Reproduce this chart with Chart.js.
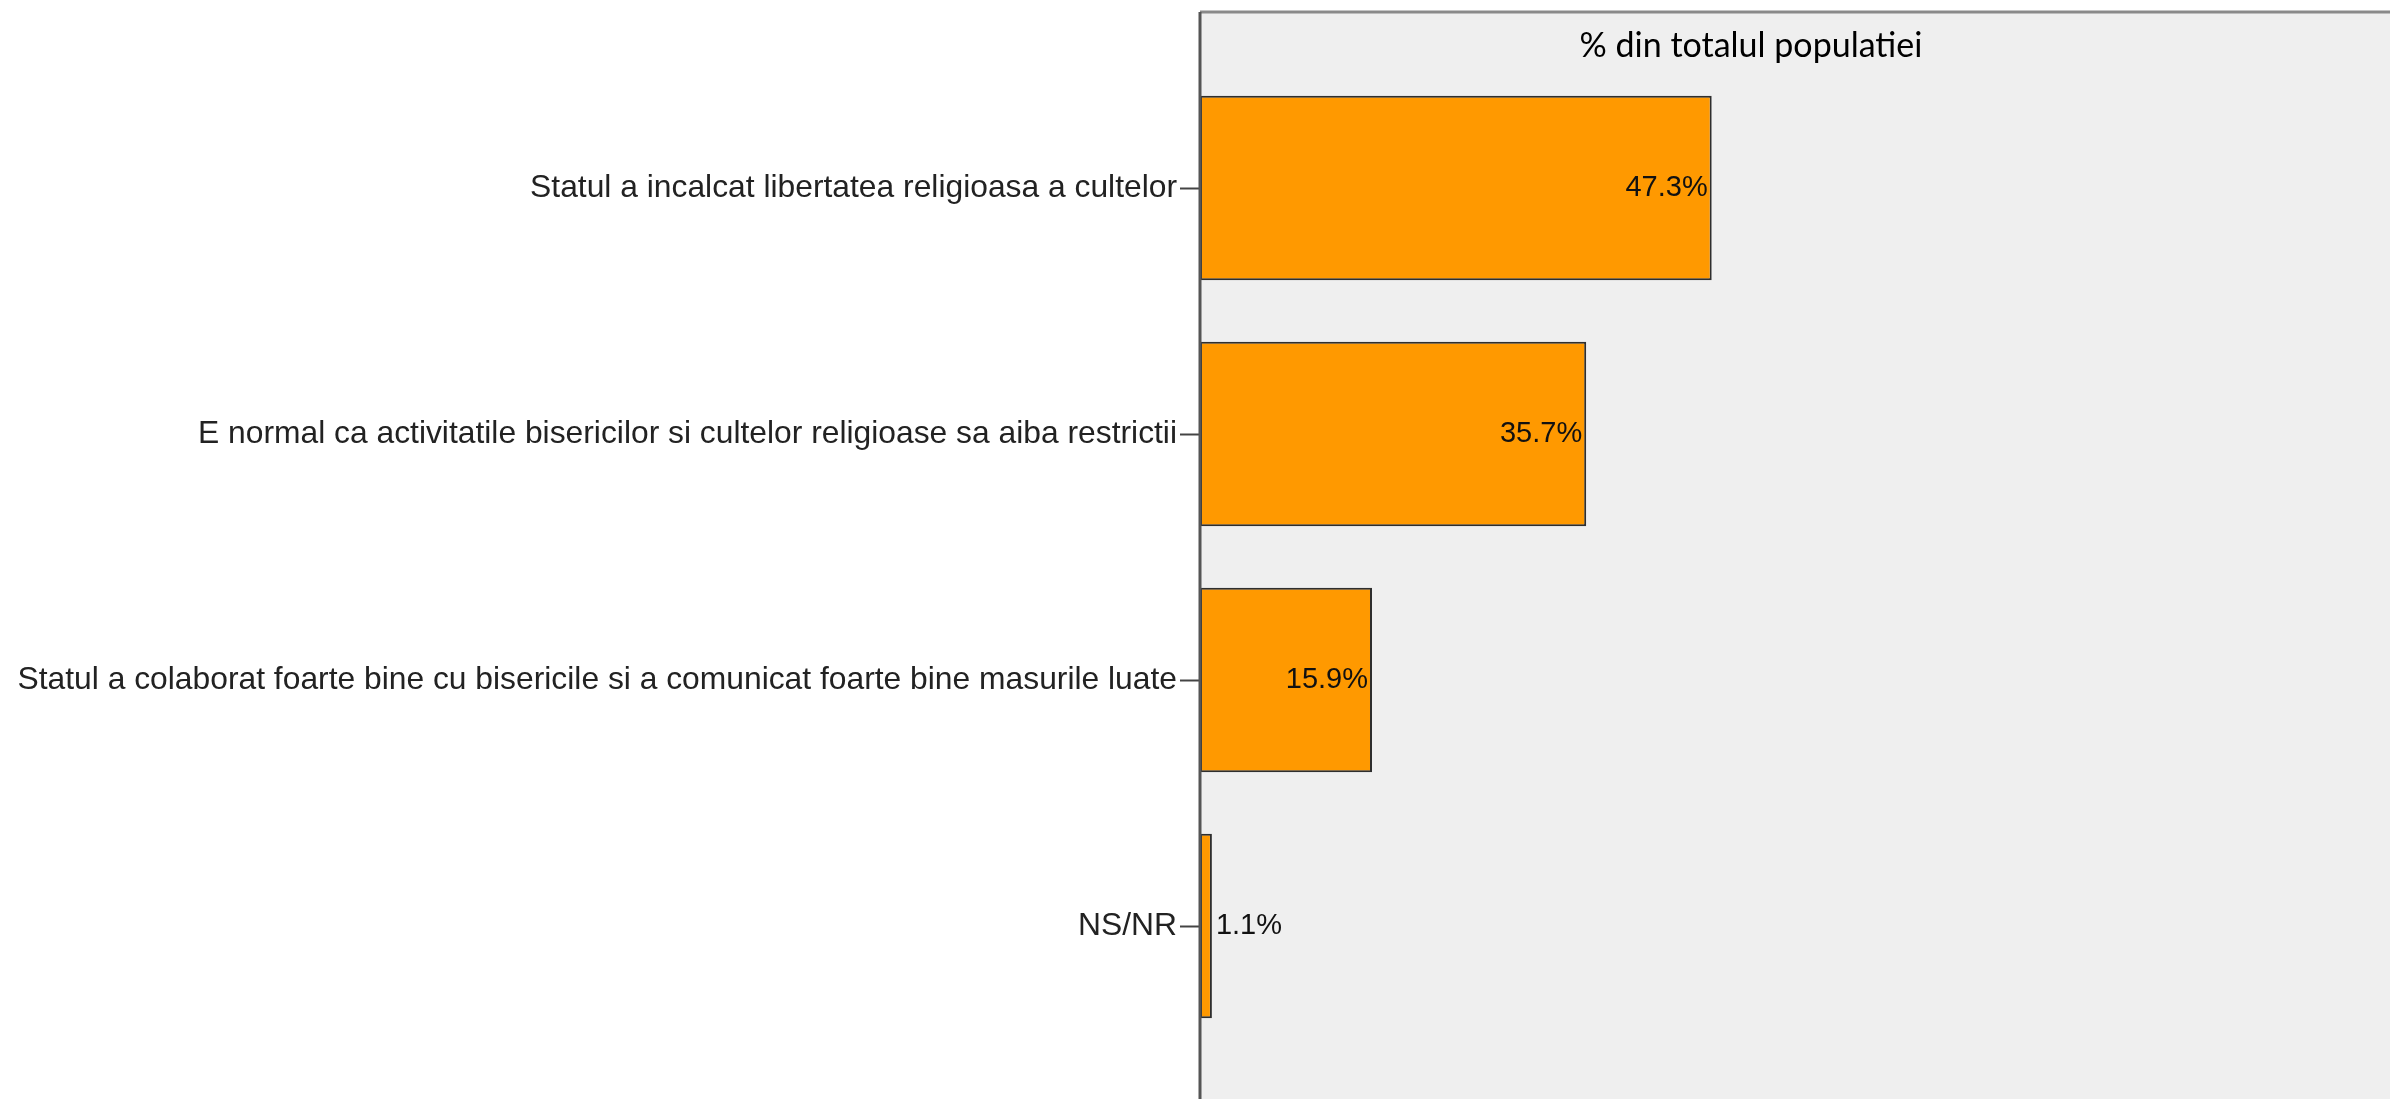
<!DOCTYPE html>
<html>
<head>
<meta charset="utf-8">
<script src="https://cdn.jsdelivr.net/npm/chart.js@4"></script>
<style>
html,body{margin:0;padding:0;background:#ffffff;}
#wrap{width:2390px;height:1099px;position:relative;}
</style>
</head>
<body>
<div id="wrap"><canvas id="c" width="2390" height="1099"></canvas></div>
<script>
const categories = [
  "Statul a incalcat libertatea religioasa a cultelor",
  "E normal ca activitatile bisericilor si cultelor religioase sa aiba restrictii",
  "Statul a colaborat foarte bine cu bisericile si a comunicat foarte bine masurile luate",
  "NS/NR"
];
const values = [47.3, 35.7, 15.9, 1.1];
const valueLabels = ["47.3%", "35.7%", "15.9%", "1.1%"];
const panelTitle = "% din totalul populatiei";

const panelPlugin = {
  id: 'panel',
  beforeDatasetsDraw(chart) {
    const ctx = chart.ctx, a = chart.chartArea;
    ctx.save();
    ctx.fillStyle = '#efefef';
    ctx.fillRect(a.left, 12, chart.width - a.left, chart.height - 12);
    ctx.strokeStyle = '#8a8a8a';
    ctx.lineWidth = 3;
    ctx.beginPath();
    ctx.moveTo(a.left, 12);
    ctx.lineTo(chart.width, 12);
    ctx.stroke();
    ctx.fillStyle = '#000';
    ctx.font = '34px Lato';
    ctx.textAlign = 'center';
    ctx.textBaseline = 'middle';
    ctx.fillText(panelTitle, 1751, 46);
    ctx.restore();
  },
  afterDatasetsDraw(chart) {
    const ctx = chart.ctx, a = chart.chartArea;
    ctx.save();
    ctx.strokeStyle = '#555';
    ctx.lineWidth = 3;
    ctx.beginPath();
    ctx.moveTo(a.left, 12);
    ctx.lineTo(a.left, chart.height);
    ctx.stroke();
    ctx.fillStyle = '#111';
    ctx.font = '29px "Liberation Sans"';
    ctx.textBaseline = 'middle';
    const meta = chart.getDatasetMeta(0);
    meta.data.forEach((bar, i) => {
      if (values[i] > 5) {
        ctx.textAlign = 'right';
        ctx.fillText(valueLabels[i], bar.x - 4, bar.y);
      } else {
        ctx.textAlign = 'left';
        ctx.fillText(valueLabels[i], bar.x + 4, bar.y);
      }
    });
    ctx.restore();
  }
};

new Chart(document.getElementById('c'), {
  type: 'bar',
  data: {
    labels: categories,
    datasets: [{
      data: values,
      backgroundColor: '#ff9900',
      borderColor: '#2e2e2e',
      borderWidth: 2,
      borderSkipped: false,
      categoryPercentage: 1,
      barPercentage: 0.75
    }]
  },
  options: {
    indexAxis: 'y',
    responsive: false,
    animation: false,
    layout: { padding: { top: 65, bottom: 50, left: 0, right: 0 } },
    plugins: { legend: { display: false }, tooltip: { enabled: false }, title: { display: false } },
    scales: {
      x: {
        display: false,
        min: 0,
        max: 110
      },
      y: {
        afterFit(scale) { scale.width = 1200; },
        border: { display: false },
        grid: {
          offset: false,
          drawOnChartArea: false,
          drawTicks: true,
          tickLength: 20,
          tickColor: '#444',
          tickWidth: 2
        },
        ticks: {
          color: '#222',
          padding: 3,
          font: { family: 'Liberation Sans', size: 31.8 }
        }
      }
    }
  },
  plugins: [panelPlugin]
});
</script>
</body>
</html>
